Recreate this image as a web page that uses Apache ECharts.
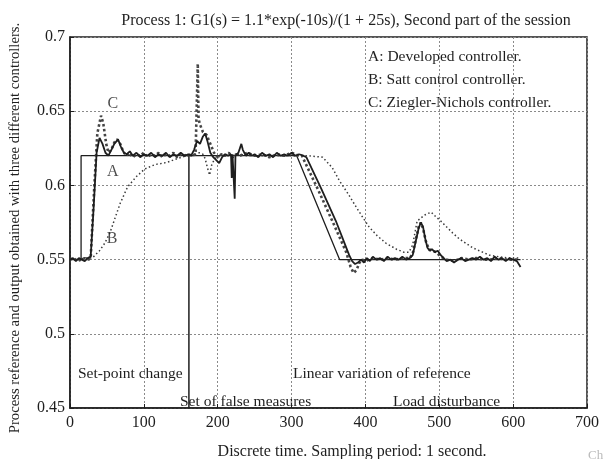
<!DOCTYPE html>
<html><head><meta charset="utf-8">
<script src="https://cdn.jsdelivr.net/npm/echarts/dist/echarts.min.js"></script>
<style>html,body{margin:0;padding:0;background:#fff}#c{width:606px;height:459px}</style>
</head><body><div id="c"></div>
<script>
const titleText = 'Process 1: G1(s) = 1.1*exp(-10s)/(1 + 25s), Second part of the session';
const yName = 'Process reference and output obtained with three different controllers.';
const xName = 'Discrete time. Sampling period: 1 second.';
const legendLines = ['A: Developed controller.', 'B: Satt control controller.', 'C: Ziegler-Nichols controller.'];
const notes = ['Set-point change', 'Linear variation of reference', 'Set of false measures', 'Load disturbance'];

// reference signal
const reference = [[0,.55],[15,.55],[15,.62],[307,.62],[365,.55],[610,.55]];
// phase marker (start of false measures)
const marker = [[161,.62],[161,.45]];
// A: developed controller
const seriesA = [[0,.550],[4,.551],[8,.549],[12,.551],[16,.550],[20,.549],[24,.551],[28,.552],[32,.585],[36,.622],[40,.632],[44,.628],[48,.622],[52,.620],[56,.624],[60,.628],[65,.631],[69,.626],[73,.622],[77,.621],[81,.623],[85,.620],[90,.622],[95,.619],[100,.621],[105,.620],[110,.622],[115,.619],[120,.621],[125,.620],[130,.622],[135,.619],[140,.621],[145,.620],[150,.622],[155,.620],[160,.621],[164,.620],[168,.624],[172,.630],[176,.628],[180,.633],[183,.635],[186,.630],[190,.622],[194,.619],[198,.617],[202,.615],[206,.619],[210,.621],[214,.620],[218,.621],[219,.605],[220,.621],[222,.620],[223,.591],[224,.620],[228,.622],[232,.628],[234,.624],[238,.620],[242,.622],[246,.620],[250,.621],[255,.619],[260,.622],[265,.620],[270,.621],[275,.619],[280,.622],[285,.620],[290,.621],[295,.620],[300,.622],[305,.620],[310,.621],[316,.620],[320,.619],[340,.598],[360,.576],[378,.553],[382,.549],[386,.547],[390,.548],[394,.550],[398,.548],[402,.551],[406,.549],[410,.552],[415,.550],[420,.551],[425,.549],[430,.552],[435,.550],[440,.551],[445,.550],[450,.552],[455,.550],[460,.551],[464,.553],[468,.562],[472,.571],[475,.575],[478,.572],[481,.564],[484,.558],[487,.556],[490,.557],[494,.555],[498,.556],[502,.553],[506,.551],[510,.549],[515,.550],[520,.548],[525,.550],[530,.551],[535,.549],[540,.550],[545,.551],[550,.550],[555,.552],[560,.550],[565,.551],[570,.549],[575,.552],[580,.550],[585,.551],[590,.549],[595,.551],[600,.550],[605,.549],[610,.545]];
// B: Satt control controller
const seriesB = [[0,.550],[10,.550],[20,.551],[30,.551],[40,.556],[47,.561],[54,.568],[61,.578],[68,.588],[78,.599],[90,.606],[101,.611],[115,.614],[131,.6155],[145,.618],[158,.620],[165,.620],[175,.622],[180,.621],[183,.618],[186,.612],[189,.607],[192,.614],[196,.618],[200,.619],[210,.621],[220,.620],[230,.621],[240,.620],[260,.620],[280,.620],[300,.620],[322,.620],[342,.619],[355,.612],[365,.603],[377,.594],[388,.585],[397,.578],[405,.572],[416,.566],[428,.561],[442,.557],[452,.555],[459,.555],[464,.560],[470,.576],[480,.580],[489,.582],[495,.579],[502,.576],[510,.572],[518,.568],[527,.564],[536,.561],[545,.558],[554,.556],[568,.553],[580,.552],[595,.551],[608,.551]];
// C: Ziegler-Nichols controller
const seriesC = [[0,.550],[5,.551],[10,.549],[15,.550],[20,.551],[25,.550],[28,.551],[33,.600],[37,.635],[42,.647],[45,.642],[49,.628],[52,.622],[56,.624],[60,.629],[64,.631],[68,.628],[72,.623],[76,.620],[80,.622],[85,.619],[90,.621],[95,.620],[100,.622],[105,.619],[110,.621],[115,.620],[120,.622],[125,.619],[130,.621],[135,.620],[140,.622],[145,.619],[150,.621],[155,.620],[160,.621],[165,.620],[170,.621],[172,.622],[173,.682],[174,.645],[176,.641],[180,.636],[185,.634],[190,.628],[195,.622],[200,.619],[205,.621],[210,.620],[215,.622],[220,.619],[225,.621],[230,.620],[240,.622],[250,.620],[260,.621],[270,.619],[280,.621],[290,.620],[300,.622],[310,.620],[314,.620],[336,.597],[357,.574],[374,.555],[380,.545],[384,.541],[388,.543],[392,.548],[396,.550],[400,.549],[410,.551],[420,.550],[430,.551],[440,.550],[450,.551],[460,.551],[464,.554],[468,.563],[472,.572],[475,.575],[478,.571],[482,.562],[486,.557],[490,.556],[496,.555],[502,.552],[510,.550],[520,.549],[530,.551],[540,.550],[550,.551],[560,.550],[570,.550],[580,.551],[590,.550],[600,.550],[608,.550]];
// curve labels in data coordinates
const curveLabels = [['C',58,.655],['A',58,.609],['B',57,.564]];

const FONT = '"Liberation Serif", "DejaVu Serif", serif';
const INK = '#1e1e1e';
const chart = echarts.init(document.getElementById('c'), null, {renderer:'canvas'});

function txt(x, y, text, size, align, color) {
  return {type:'text', x:x, y:y, silent:true,
    style:{text:text, fill:color||INK, font: size + 'px ' + FONT, textAlign:align||'left', textVerticalAlign:'middle'}};
}

const graphics = [
  txt(346, 21, titleText, 16, 'center'),
  {type:'text', x:15, y:228, rotation:Math.PI/2, silent:true, style:{text:yName, fill:INK, font:'14.7px '+FONT, textAlign:'center', textVerticalAlign:'middle'}},
  txt(352, 452, xName, 16, 'center'),
  txt(368, 57, legendLines[0], 15.5),
  txt(368, 80, legendLines[1], 15.5),
  txt(368, 103, legendLines[2], 15.5),
  txt(78, 374, notes[0], 15.5),
  txt(293, 374, notes[1], 15.5),
  txt(180, 402, notes[2], 15.5),
  txt(393, 402, notes[3], 15.5),
  txt(588, 456, 'Ch', 13, 'left', '#bbbbbb')
];

const common = {type:'line', showSymbol:false, symbol:'none', animation:false, z:3};

chart.setOption({
  animation:false,
  backgroundColor:'#fff',
  grid:{left:70, right:19, top:37, bottom:51, show:true, borderColor:INK, borderWidth:1.5, backgroundColor:'transparent'},
  xAxis:{type:'value', min:0, max:700, interval:100,
    axisLine:{show:true, lineStyle:{color:INK, width:1.5}},
    axisTick:{show:true, inside:true, length:4, lineStyle:{color:INK}},
    axisLabel:{color:INK, fontFamily:FONT, fontSize:16, margin:7},
    splitLine:{show:true, lineStyle:{color:'#8a8a8a', type:[2,2], width:1}}},
  yAxis:{type:'value', min:0.45, max:0.7, interval:0.05,
    axisLine:{show:true, lineStyle:{color:INK, width:1.5}},
    axisTick:{show:true, inside:true, length:4, lineStyle:{color:INK}},
    axisLabel:{color:INK, fontFamily:FONT, fontSize:16, margin:5, formatter:v=>String(Math.round(v*100)/100)},
    splitLine:{show:true, lineStyle:{color:'#8a8a8a', type:[2,2], width:1}}},
  graphic:graphics,
  series:[
    Object.assign({}, common, {name:'Reference', data:reference, lineStyle:{color:INK, width:1.3}}),
    Object.assign({}, common, {name:'Marker', data:marker, lineStyle:{color:INK, width:1.5}}),
    Object.assign({}, common, {name:'B', data:seriesB, lineStyle:{color:'#3a3a3a', width:1.5, type:[1.5,2.5]}}),
    Object.assign({}, common, {name:'C', data:seriesC, lineStyle:{color:'#444', width:2.6, type:[2.5,2.5]}}),
    Object.assign({}, common, {name:'A', data:seriesA, lineStyle:{color:INK, width:1.8}}),
    {type:'scatter', data:curveLabels.map(d=>[d[1],d[2]]), symbolSize:0, animation:false, z:5,
      label:{show:true, position:'inside', formatter:p=>curveLabels[p.dataIndex][0], color:INK, fontFamily:FONT, fontSize:16}}
  ]
});
</script>
</body></html>
